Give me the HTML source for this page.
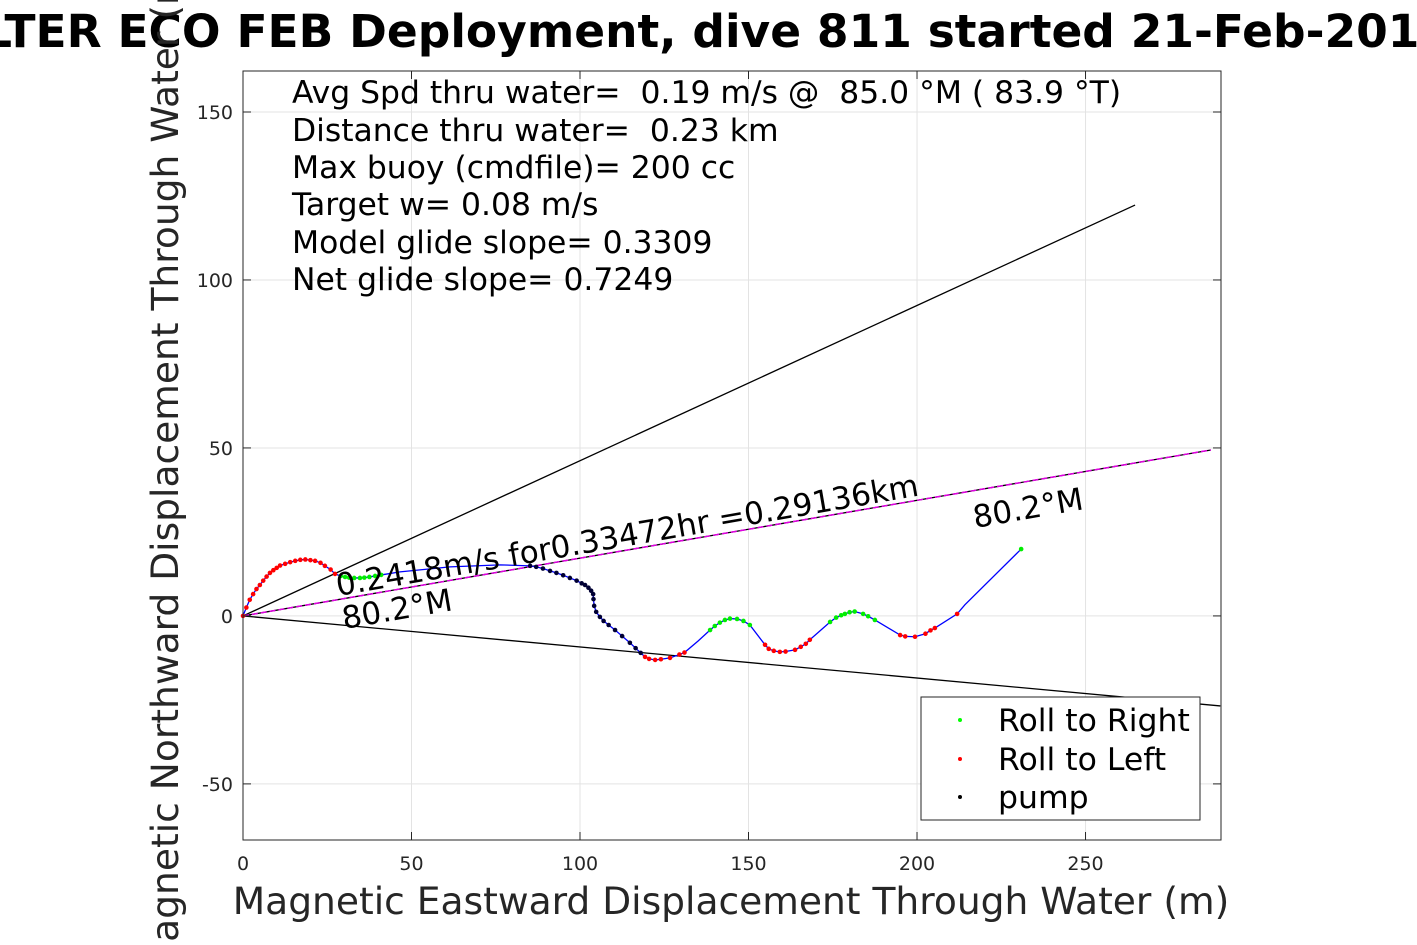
<!DOCTYPE html>
<html><head><meta charset="utf-8"><style>
html,body{margin:0;padding:0;background:#fff;}
svg{display:block;font-family:"DejaVu Sans","Liberation Sans",sans-serif;}
text{white-space:pre;}
</style></head><body>
<svg id="chart" width="1417" height="945" viewBox="0 0 1417 945">
<rect x="0" y="0" width="1417" height="945" fill="#fff"/>
<g id="grid"></g>
<g id="lines"></g>
<g id="track"></g>
<rect x="243" y="71" width="978" height="769" fill="none" stroke="#262626" stroke-width="1"/>
<g id="ticks" font-size="19" fill="#262626"></g>
<text x="-17" y="47" font-size="45.5" font-weight="bold" fill="#000">LTER ECO FEB Deployment, dive 811 started 21-Feb-2019</text>
<text x="731" y="914" font-size="37.6" text-anchor="middle" fill="#262626">Magnetic Eastward Displacement Through Water (m)</text>
<text transform="translate(178,464) rotate(-90)" font-size="37.6" text-anchor="middle" fill="#262626">Magnetic Northward Displacement Through Water (m)</text>
<g font-size="31.4" fill="#000">
<text x="292" y="103">Avg Spd thru water=  0.19 m/s @  85.0 °M ( 83.9 °T)</text>
<text x="292" y="141">Distance thru water=  0.23 km</text>
<text x="292" y="178">Max buoy (cmdfile)= 200 cc</text>
<text x="292" y="215">Target w= 0.08 m/s</text>
<text x="292" y="253">Model glide slope= 0.3309</text>
<text x="292" y="290">Net glide slope= 0.7249</text>
</g>
<text transform="translate(338,596) rotate(-9.8)" font-size="31" fill="#000">0.2418m/s for0.33472hr =0.29136km</text>
<text transform="translate(344,629) rotate(-9.8)" font-size="31" fill="#000">80.2°M</text>
<text transform="translate(975,528) rotate(-9.8)" font-size="31" fill="#000">80.2°M</text>
<g>
<rect x="921" y="697" width="279" height="123" fill="#fff" stroke="#262626"/>
<circle cx="960" cy="720" r="2" fill="#00ff00"/>
<text x="998" y="731" font-size="31.5" fill="#000">Roll to Right</text>
<circle cx="960" cy="759" r="2" fill="#ff0000"/>
<text x="998" y="770" font-size="31.5" fill="#000">Roll to Left</text>
<circle cx="960" cy="797" r="2" fill="#000"/>
<text x="998" y="808" font-size="31.5" fill="#000">pump</text>
</g>
</svg>
<script>
const xTicks = [0, 50, 100, 150, 200, 250];
const yTicks = [-50, 0, 50, 100, 150];
const trackX = [0,1,2,3,4,5,6,7,8,9,10,11,12.5,14,15.5,17,18.5,20,21.4,23,24.3,26,27.3,
 29,30.3,31.5,33,34.7,36,37.5,39.2,41,
 46.6,61.4,76.3,
 85.2,87,89,91.1,93,95,97,99,100.5,101.5,102.5,103.3,103.9,104,104.2,104.8,105.9,107,108.5,110.4,112.5,114.8,116.5,118,
 119.3,120.5,122.3,124,126.7,129.5,131,
 135,
 138.6,140,141.5,143,144.5,146.6,148.5,150.4,
 154.9,156,157.5,159.3,161,163.8,165.5,167,168.2,
 174.2,176,177.5,178.6,180,181.5,184,185.5,187.5,
 195,196.5,199.4,202.5,204,205.3,211.9,
 214.2,230.9];
const trackY = [0,2.5,4.8,6.5,8,9.2,10.5,11.7,12.8,13.6,14.3,15,15.5,16,16.4,16.7,16.8,16.6,16.4,15.8,14.9,13.8,12.5,
 11.9,11.6,11.4,11.3,11.3,11.4,11.6,11.9,12.2,
 13.1,14.6,15.2,
 14.9,14.6,14.1,13.4,12.8,12.1,11.3,10.5,9.7,9.2,8.4,7.5,6.5,5,3,1.2,-0.3,-1.5,-2.7,-4.2,-6,-8,-9.6,-11,
 -12.2,-12.8,-13.1,-12.9,-12.5,-11.5,-10.9,
 -7.5,
 -4.2,-3,-2,-1.2,-0.8,-0.9,-1.5,-2.7,
 -8.6,-9.8,-10.4,-10.7,-10.6,-10.1,-9.2,-8.3,-7.1,
 -1.8,-0.5,0.2,0.6,1.1,1.3,0.6,-0.1,-1.2,
 -5.7,-6.1,-6.2,-5.3,-4.3,-3.6,0.6,
 3.3,19.9];
const trackKind = ['L','L','L','L','L','L','L','L','L','L','L','L','L','L','L','L','L','L','L','L','L','L','L',
 'R','R','R','R','R','R','R','R','R',
 'N','N','N',
 'P','P','P','P','P','P','P','P','P','P','P','P','P','P','P','P','P','P','P','P','P','P','P','P',
 'L','L','L','L','L','L','L',
 'N',
 'R','R','R','R','R','R','R','R',
 'L','L','L','L','L','L','L','L','L',
 'R','R','R','R','R','R','R','R','R',
 'L','L','L','L','L','L','L',
 'N','R'];
const upperLineEnd = [264.7, 122.3];
const lowerLineEnd = [290, -26.8];
const currentLineEnd = [287.2, 49.4];

const X0=243, X1=1221, Y0=840, Y1=71, xmin=0, xmax=290.2, ymin=-66.7, ymax=162.2;
function sx(v){return X0+(v-xmin)/(xmax-xmin)*(X1-X0);}
function sy(v){return Y0-(v-ymin)/(ymax-ymin)*(Y0-Y1);}
const NS='http://www.w3.org/2000/svg';
function mk(tag,attrs,parent){const e=document.createElementNS(NS,tag);for(const k in attrs)e.setAttribute(k,attrs[k]);parent.appendChild(e);return e;}
const grid=document.getElementById('grid'), ticks=document.getElementById('ticks');
xTicks.forEach(t=>{
  const l=mk('line',{x1:sx(t),x2:sx(t),y1:Y1,y2:Y0,stroke:'#e3e3e3','stroke-width':1},grid);
  
  
  const tk=mk('line',{x1:sx(t),x2:sx(t),y1:Y0,y2:Y0-8,stroke:'#262626'},ticks);
  
  
  const tk2=mk('line',{x1:sx(t),x2:sx(t),y1:Y1,y2:Y1+8,stroke:'#262626'},ticks);
  
  
  const tx=mk('text',{x:sx(t),y:Y0+30,'text-anchor':'middle'},ticks);
  tx.textContent=t;
  
  
});
yTicks.forEach(t=>{
  const l=mk('line',{x1:X0,x2:X1,y1:sy(t),y2:sy(t),stroke:'#e3e3e3','stroke-width':1},grid);
  
  
  const tk=mk('line',{x1:X0,x2:X0+8,y1:sy(t),y2:sy(t),stroke:'#262626'},ticks);
  
  
  const tk2=mk('line',{x1:X1,x2:X1-8,y1:sy(t),y2:sy(t),stroke:'#262626'},ticks);
  
  
  const tx=mk('text',{x:X0-10,y:sy(t)+7,'text-anchor':'end'},ticks);
  tx.textContent=t;
  
  
});
const lines=document.getElementById('lines');
const up=mk('line',{x1:sx(0),y1:sy(0),x2:sx(upperLineEnd[0]),y2:sy(upperLineEnd[1]),stroke:'#000','stroke-width':1.3},lines);


const lo=mk('line',{x1:sx(0),y1:sy(0),x2:sx(lowerLineEnd[0]),y2:sy(lowerLineEnd[1]),stroke:'#000','stroke-width':1.3},lines);


const cb=mk('line',{x1:sx(0),y1:sy(0),x2:sx(currentLineEnd[0]),y2:sy(currentLineEnd[1]),stroke:'#000','stroke-width':1.3},lines);


const cm=mk('line',{x1:sx(0),y1:sy(0),x2:sx(currentLineEnd[0]),y2:sy(currentLineEnd[1]),stroke:'#e000e0','stroke-width':1.5,'stroke-dasharray':'6 3'},lines);


const track=document.getElementById('track');
const pl=mk('polyline',{points:trackX.map((x,i)=>sx(x)+','+sy(trackY[i])).join(' '),fill:'none',stroke:'#0000ff','stroke-width':1.3},track);


const col={L:'#ff0000',R:'#00ee00',P:'#000033'};
trackX.forEach((x,i)=>{
  const k=trackKind[i]; if(!col[k])return;
  const c=mk('circle',{cx:sx(x),cy:sy(trackY[i]),r:2.3,fill:col[k]},track);
  
  
});
</script>
</body></html>
